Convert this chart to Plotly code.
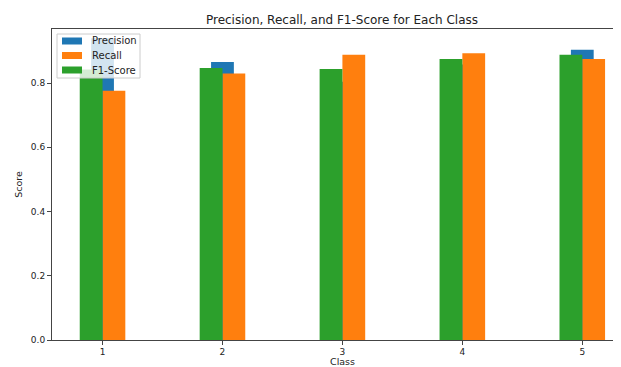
import plotly.graph_objects as go

classes = [1, 2, 3, 4, 5]
precision = [0.94, 0.866, 0.804, 0.858, 0.904]
recall = [0.776, 0.830, 0.888, 0.893, 0.875]
f1_score = [0.842, 0.847, 0.844, 0.875, 0.888]
tick_labels = ["1", "2", "3", "4", "5"]
series_names = ["Precision", "Recall", "F1-Score"]
series_colors = ["#1f77b4", "#ff7f0e", "#2ca02c"]

W = 0.19
FONT = "DejaVu Sans"
TXT = "#222"

# the page body has an 8px default margin: work in window pixels, shift into figure pixels
OFF = 8
FW, FH = 621 - OFF, 367 - OFF
# plot area in window pixels
L, R, T, B = 52, 621, 29, 340


def px(x):
    return (x - L) / (R - L)


def py(y):
    return (B - y) / (B - T)


fig = go.Figure()
fig.add_trace(go.Bar(x=classes, y=precision, name=series_names[0], width=W, offset=-W / 2,
                     marker=dict(color=series_colors[0], line=dict(width=0))))
fig.add_trace(go.Bar(x=classes, y=recall, name=series_names[1], width=W, offset=0,
                     marker=dict(color=series_colors[1], line=dict(width=0))))
fig.add_trace(go.Bar(x=classes, y=f1_score, name=series_names[2], width=W, offset=-W,
                     marker=dict(color=series_colors[2], line=dict(width=0))))

# matplotlib-style legend box
shapes = [dict(type="rect", xref="paper", yref="paper",
               x0=px(57), x1=px(140), y0=py(78), y1=py(34),
               fillcolor="rgba(255,255,255,0.8)", line=dict(color="#cccccc", width=1), layer="above")]
annotations = []
rows = [41, 55.5, 70]
for name, color, ry in zip(series_names, series_colors, rows):
    shapes.append(dict(type="rect", xref="paper", yref="paper",
                       x0=px(62), x1=px(82), y0=py(ry + 3.5), y1=py(ry - 3.5),
                       fillcolor=color, line=dict(width=0), layer="above"))
    annotations.append(dict(text=name, xref="paper", yref="paper", x=px(90), y=py(ry),
                            xanchor="left", yanchor="middle", showarrow=False,
                            font=dict(size=10, family=FONT, color=TXT)))

# x axis title, placed like the reference (at the bottom window edge)
annotations.append(dict(text="Class", xref="paper", yref="paper", x=px(342), y=py(361.5),
                        xanchor="center", yanchor="middle", showarrow=False, borderpad=0,
                        font=dict(size=9.5, family=FONT, color=TXT)))

fig.update_layout(
    width=FW, height=FH,
    margin=dict(l=L - OFF, r=0, t=T - OFF, b=FH - (B - OFF), autoexpand=False),
    paper_bgcolor="white", plot_bgcolor="white",
    barmode="overlay",
    showlegend=False,
    font=dict(family=FONT, color=TXT),
    title=dict(text="Precision, Recall, and F1-Score for Each Class",
               x=(342 - OFF) / FW, xanchor="center", xref="container",
               y=1 - (20 - OFF) / FH, yanchor="middle",
               font=dict(size=12, family=FONT, color=TXT)),
    shapes=shapes,
    annotations=annotations,
    xaxis=dict(range=[0.5787, 5.3228], tickmode="array", tickvals=classes, ticktext=tick_labels,
               showline=True, linecolor="#444", linewidth=1, mirror=True, automargin=False,
               ticks="outside", ticklen=3.5, tickcolor="#444", showgrid=False, zeroline=False,
               tickfont=dict(size=9, family=FONT, color=TXT)),
    yaxis=dict(range=[0, 0.9685], tickvals=[0, 0.2, 0.4, 0.6, 0.8],
               ticktext=["0.0", "0.2", "0.4", "0.6", "0.8"],
               showline=True, linecolor="#444", linewidth=1, mirror=False, automargin=False,
               ticks="outside", ticklen=4, tickcolor="#444", showgrid=False, zeroline=False,
               tickfont=dict(size=9, family=FONT, color=TXT),
               title=dict(text="Score", font=dict(size=9.5, family=FONT, color=TXT), standoff=6)),
)

fig.write_html("out.html")
